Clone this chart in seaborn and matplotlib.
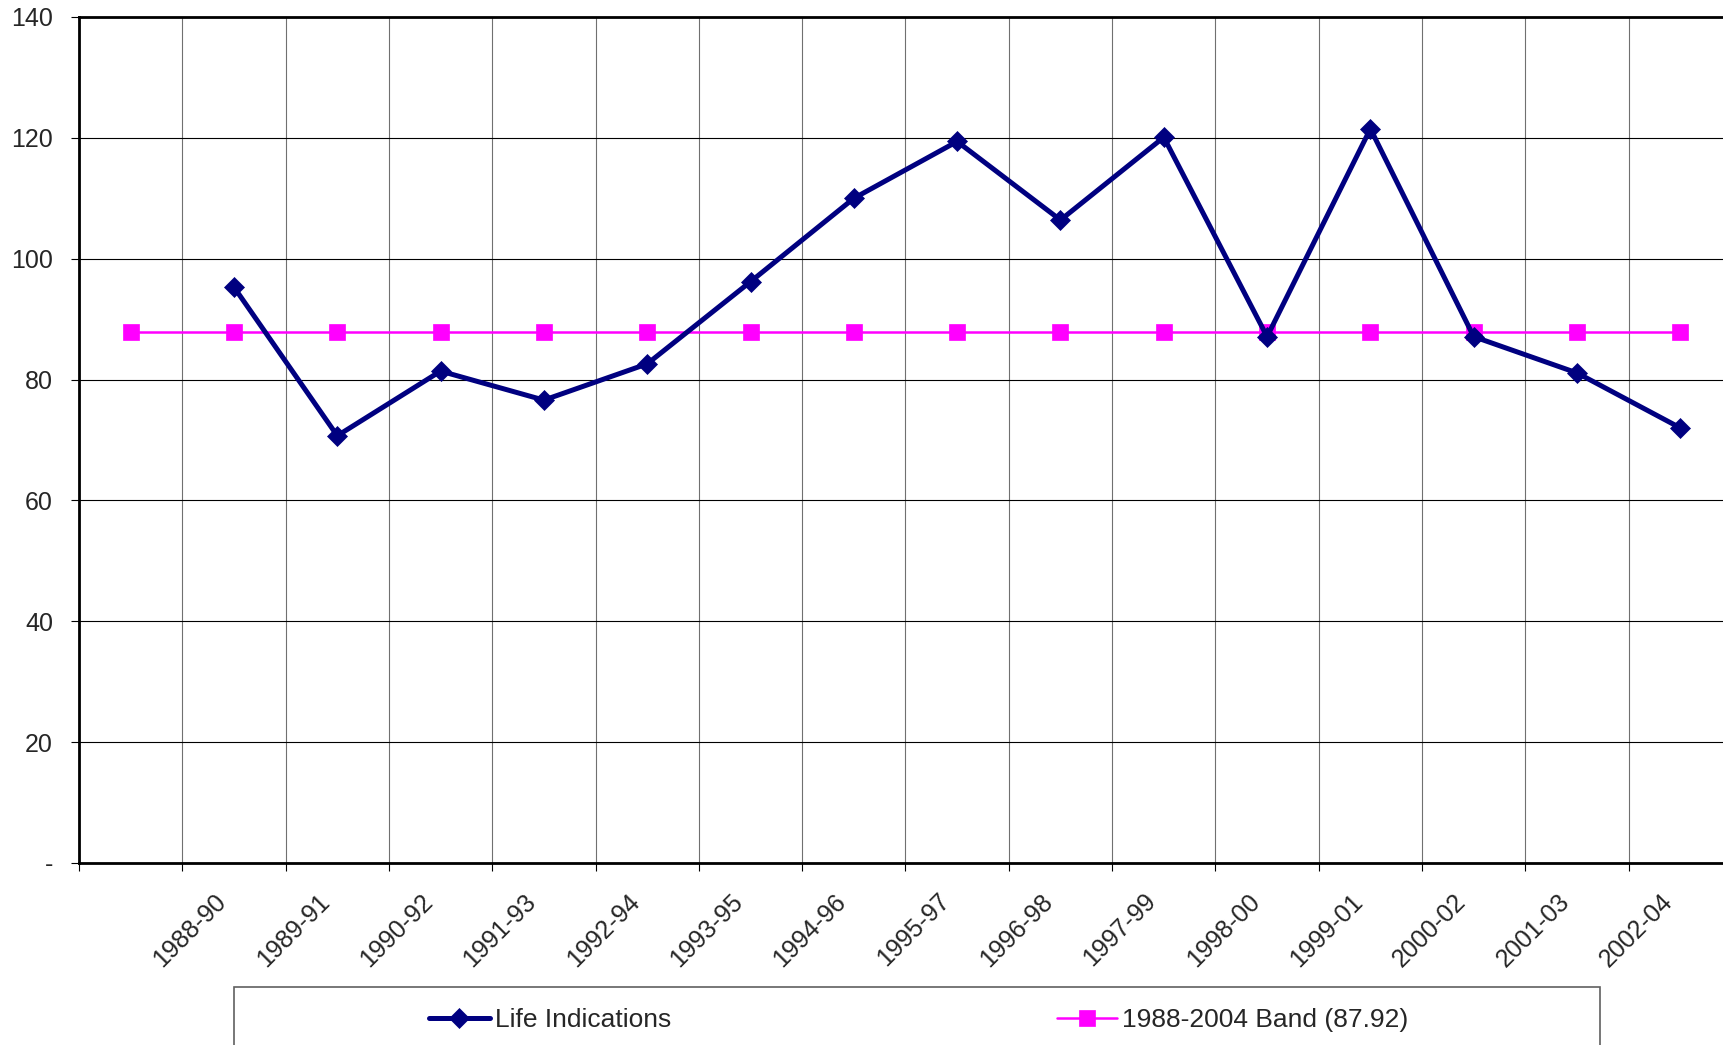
import numpy as np
import pandas as pd
import matplotlib
matplotlib.use("Agg")
import matplotlib.pyplot as plt
from matplotlib.patches import Rectangle
from matplotlib.ticker import FixedLocator
import seaborn as sns

# ---- data ----
periods = ["", "1988-90", "1989-91", "1990-92", "1991-93", "1992-94", "1993-95",
           "1994-96", "1995-97", "1996-98", "1997-99", "1998-00", "1999-01",
           "2000-02", "2001-03", "2002-04"]
life_indications = [np.nan, 95.3, 70.7, 81.4, 76.6, 82.6, 96.2, 110.0, 119.4,
                    106.4, 120.1, 87.1, 121.5, 87.1, 81.1, 72.0]
band_value = 87.92
band = [band_value] * len(periods)
y_ticks = [0, 20, 40, 60, 80, 100, 120, 140]
y_tick_labels = ["-", "20", "40", "60", "80", "100", "120", "140"]
life_label = "Life Indications"
band_label = "1988-2004 Band (87.92)"

df = pd.DataFrame({"pos": np.arange(len(periods)), "period": periods,
                   "life": life_indications, "band": band})

sns.set_style("white")
plt.rcParams["font.family"] = ["Liberation Sans", "DejaVu Sans"]

W, H = 1723, 1045
fig = plt.figure(figsize=(W / 100, H / 100), dpi=100)
ax = fig.add_axes([79 / W, 1 - 863 / H, (1732 - 79) / W, (863 - 17) / H])

sns.lineplot(data=df, x="pos", y="band", ax=ax, color="#FF00FF", lw=1.8,
             marker="s", markersize=11, markeredgecolor="#FF00FF",
             markeredgewidth=0.5, label=band_label, zorder=3)
sns.lineplot(data=df.dropna(), x="pos", y="life", ax=ax, color="#000080", lw=3.6,
             marker="D", markersize=10, markeredgecolor="#000080",
             markeredgewidth=0.5, label=life_label, zorder=4)

ax.set_xlim(-0.5, len(periods) - 0.5)
ax.set_ylim(0, 140)
ax.set_xlabel("")
ax.set_ylabel("")

# x: boundary ticks (major) + labels (minor, zero-length ticks, nudged left
# so the rotated text ends at the category centre like the original)
ax.xaxis.set_major_locator(FixedLocator(np.arange(len(periods) + 1) - 0.5))
ax.set_xticklabels([""] * (len(periods) + 1))
label_nudge = 0.11
ax.set_xticks(np.arange(len(periods)) - label_nudge, minor=True)
ax.set_xticklabels(periods, minor=True, rotation=45, ha="right", va="center",
                   rotation_mode="anchor", fontsize=18)
ax.tick_params(axis="x", which="minor", length=0, pad=25)
ax.tick_params(axis="x", which="major", direction="out", length=5.8, width=0.8,
               color="black", bottom=True)

ax.set_yticks(y_ticks)
ax.set_yticklabels(y_tick_labels, fontsize=18)
ax.tick_params(axis="y", direction="out", length=5.8, width=0.8, color="black",
               left=True, pad=13)

ax.yaxis.grid(True, color="black", lw=0.8)
ax.xaxis.grid(True, which="major", color="#707070", lw=0.8)
ax.set_axisbelow(True)

for s in ["left", "bottom", "top"]:
    ax.spines[s].set_visible(True)
    ax.spines[s].set_color("black")
    ax.spines[s].set_linewidth(2)
ax.spines["right"].set_visible(False)

# legend
handles, labels = ax.get_legend_handles_labels()
ax.get_legend().remove()
order = [labels.index(life_label), labels.index(band_label)]
fig.patches.append(Rectangle((234 / W, -0.02), (1600 - 234) / W, 0.02 + (H - 987) / H,
                             transform=fig.transFigure, fill=False,
                             edgecolor="#606060", lw=1.2))
fig.legend([handles[i] for i in order], [labels[i] for i in order],
           loc="center left", bbox_to_anchor=(429 / W, 1 - 1020 / H),
           bbox_transform=fig.transFigure, ncol=2, frameon=False,
           borderpad=0, borderaxespad=0, handlelength=2.3, handletextpad=0.2,
           columnspacing=14.6, fontsize=19)

fig.savefig("out.png", dpi=100)
